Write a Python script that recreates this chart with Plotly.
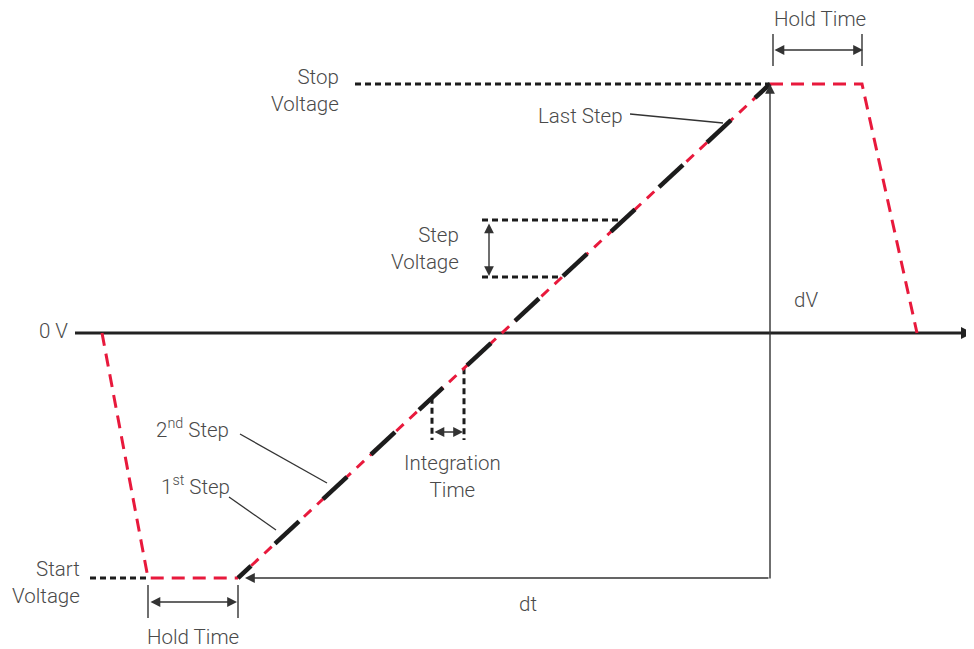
import plotly.graph_objects as go
import numpy as np

# ---------------- diagram data (time on x, level on y; y drawn downward) ----------------
zero_v = 333          # 0 V baseline
start_v = 578         # start voltage level
stop_v = 84           # stop voltage level

wave_left_t = [102, 148, 238]       # fall to start voltage + hold
wave_left_v = [333, 578, 578]
ramp_t = [238, 770]                 # sweep
ramp_v = [578, 84]
wave_right_t = [770, 862, 917]      # hold at stop voltage + return
wave_right_v = [84, 84, 333]

# integration (measurement) periods along the sweep
step_t0 = [238, 275, 323, 371, 419, 467, 515, 563, 611, 659, 707, 755]
step_t1 = [251, 299, 347, 395, 443, 491, 539, 587, 635, 683, 731, 770]

# helper mark data
step_voltage_levels = [220, 277]
step_voltage_left = 482
integration_t = [432, 464]
integration_bottom = 440

# labels
labels = {
    "hold_top": "Hold Time",
    "stop": "Stop<br>Voltage",
    "last": "Last Step",
    "stepv": "Step<br>Voltage",
    "dv": "dV",
    "zero": "0 V",
    "second": "2<sup>nd</sup> Step",
    "first": "1<sup>st</sup> Step",
    "integ": "Integration<br>Time",
    "start": "Start<br>Voltage",
    "hold_bot": "Hold Time",
    "dt": "dt",
}

RED = "#e8193c"
BLK = "#1c1c1c"
GRAY = "#333333"
TXT = "#4a4a4a"
FONT = dict(family="Roboto", size=20.5, color=TXT, weight=300)

# page body has an 8px margin: the plot spans screen pixels 8..974 / 8..649
OFF = 8


def ramp_level(t):
    return float(np.interp(t, ramp_t, ramp_v))


fig = go.Figure()


def line(x, y, color, width, dash="solid"):
    fig.add_trace(go.Scatter(x=x, y=y, mode="lines", hoverinfo="skip",
                             line=dict(color=color, width=width, dash=dash)))


# baseline
line([75, 968], [zero_v, zero_v], "#222222", 3)
# start / stop voltage dotted references
line([90, wave_left_t[1]], [start_v, start_v], BLK, 3, "6px,4px")
line([355, ramp_t[1]], [stop_v, stop_v], BLK, 3, "6px,4px")
# step voltage dotted references
for lv in step_voltage_levels:
    line([step_voltage_left, float(np.interp(lv, ramp_v[::-1], ramp_t[::-1]))], [lv, lv], BLK, 3, "6px,4px")
# integration time dotted verticals
for t in integration_t:
    line([t, t], [ramp_level(t), integration_bottom], BLK, 3, "6px,4px")

# waveform (red dashed)
line(wave_left_t, wave_left_v, RED, 3, "13px,8px")
line(wave_right_t, wave_right_v, RED, 3, "13px,8px")
line(ramp_t, ramp_v, RED, 3, "10px,8px")

# measurement steps (black)
sx, sy = [], []
for a, b in zip(step_t0, step_t1):
    sx += [a, b, None]
    sy += [ramp_level(a), ramp_level(b), None]
line(sx, sy, BLK, 4.5)

# hold time ticks
line([773, 773], [34, 66], GRAY, 1.4)
line([862, 862], [34, 66], GRAY, 1.4)
line([148, 148], [585, 618], GRAY, 1.4)
line([238, 238], [585, 618], GRAY, 1.4)

# leader lines
line([240, 327], [434, 483], GRAY, 1.3)
line([229, 276], [497, 530], GRAY, 1.3)
line([630, 723], [114, 123], GRAY, 1.3)


def arrow(x, y, ax, ay, both=False, width=1.4, size=1.4, color=GRAY):
    fig.add_annotation(x=x, y=y, ax=ax, ay=ay, xref="x", yref="y", axref="x", ayref="y",
                       text="", showarrow=True, arrowhead=2, arrowsize=size,
                       arrowwidth=width, arrowcolor=color,
                       arrowside="end+start" if both else "end")


arrow(863, 50, 773, 50, both=True)
arrow(237, 602, 149, 602, both=True)
arrow(489, 276, 489, 222, both=True)
arrow(463, 432, 433, 432, both=True)
arrow(245, start_v, 770, start_v)
arrow(770, stop_v, 770, start_v + 2)
arrow(973, zero_v, 960, zero_v, width=3, size=0.8, color="#222222")


def text(x, y, s, xanchor="center", align="center"):
    fig.add_annotation(x=x, y=y, xref="x", yref="y", text=s, showarrow=False,
                       xanchor=xanchor, yanchor="middle", align=align, font=FONT)


text(820, 19, labels["hold_top"])
text(341, 90, labels["stop"], "right", "right")
text(580, 116, labels["last"])
text(461, 248, labels["stepv"], "right", "right")
text(806, 300, labels["dv"])
text(70, 331, labels["zero"], "right", "right")
text(192, 428, labels["second"])
text(195, 485, labels["first"])
text(452, 476, labels["integ"])
text(82, 582, labels["start"], "right", "right")
text(193, 637, labels["hold_bot"])
text(528, 604, labels["dt"])

fig.update_layout(
    width=974 - OFF, height=649 - OFF, margin=dict(l=0, r=0, t=0, b=0),
    paper_bgcolor="white", plot_bgcolor="white", showlegend=False,
    xaxis=dict(range=[OFF, 974], visible=False, fixedrange=True),
    yaxis=dict(range=[649, OFF], visible=False, fixedrange=True),
)

fig.write_html("out.html")
